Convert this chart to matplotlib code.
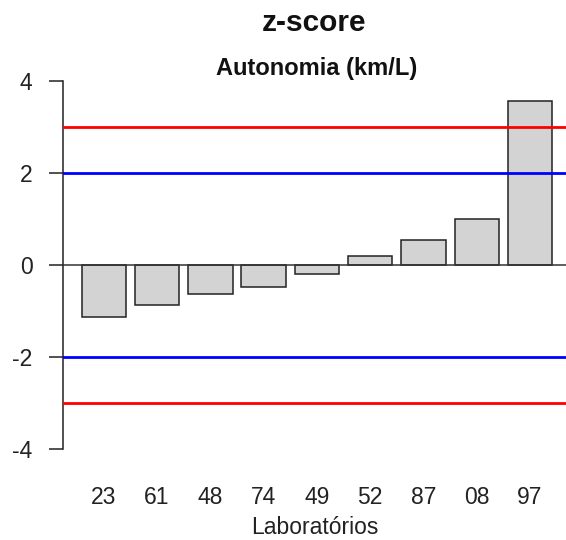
import matplotlib
matplotlib.use("Agg")
import matplotlib.pyplot as plt

labs = ['23', '61', '48', '74', '49', '52', '87', '08', '97']
zscores = [-1.12, -0.86, -0.63, -0.47, -0.20, 0.20, 0.55, 1.01, 3.58]
warn_limits = [2, -2]
action_limits = [3, -3]
yticks = [-4, -2, 0, 2, 4]

plt.rcParams['font.family'] = ['Liberation Sans', 'DejaVu Sans']

W, H = 566, 540
fig = plt.figure(figsize=(W / 100, H / 100), dpi=100)

# axes box in pixels: left spine at x=63, plot region y from 66.6 to 464
left, right, top, bottom = 63, 566, 66.6, 464
ax = fig.add_axes([left / W, 1 - bottom / H, (right - left) / W, (bottom - top) / H])

# R barplot layout: width 1, space 0.2
pos = [0.7 + 1.2 * i for i in range(len(labs))]
ax.bar(pos, zscores, width=1.0, color='#d3d3d3', edgecolor='#222222', linewidth=1.1, zorder=2)

ax.axhline(0, color='#333333', linewidth=1.1, zorder=3)
for v in warn_limits:
    ax.axhline(v, color='#0000ff', linewidth=2, zorder=4)
for v in action_limits:
    ax.axhline(v, color='#ff0000', linewidth=2, zorder=4)

ax.set_xlim(-0.22, 11.11)
ax.set_ylim(-4.32, 4.32)

for s in ['top', 'right', 'bottom']:
    ax.spines[s].set_visible(False)
ax.spines['left'].set_bounds(-4, 4)
ax.spines['left'].set_linewidth(1.1)
ax.spines['left'].set_color('#222222')

ax.set_yticks(yticks)
ax.set_yticklabels([str(t) for t in yticks])
ax.tick_params(axis='y', length=10, width=1.1, color='#222222', labelsize=16.5, pad=12, labelcolor='#222222')

ax.set_xticks(pos)
ax.set_xticklabels(labs)
ax.tick_params(axis='x', length=0, labelsize=16.5, pad=16, labelcolor='#222222')
ax.set_xlabel('Laboratórios', fontsize=16.5, color='#222222', labelpad=5)

fig.text(314 / W, 1 - 23 / H, 'z-score', ha='center', va='center',
         fontsize=21.5, fontweight='bold', color='#111111')
fig.text(317 / W, 1 - 68 / H, 'Autonomia (km/L)', ha='center', va='center',
         fontsize=17, fontweight='bold', color='#111111')

fig.savefig('out.png', dpi=100)
